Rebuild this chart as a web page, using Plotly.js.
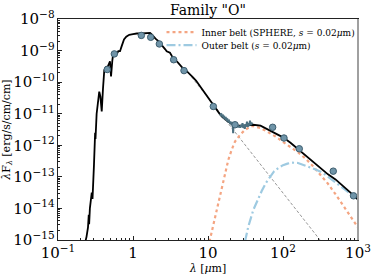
<!DOCTYPE html>
<html>
<head>
<meta charset="utf-8">
<script src="https://cdn.plot.ly/plotly-3.0.1.min.js"></script>
<style>html,body{margin:0;padding:0;background:#fff;}#chart{width:374px;height:280px;}</style>
</head>
<body>
<div id="chart"></div>
<script>
// Values, in log10 units (log10 of wavelength in um, log10 of lambda*F_lambda)
const modelLogLam = [-0.64,-0.635,-0.62,-0.60,-0.59,-0.585,-0.575,-0.55,-0.54,-0.52,-0.505,-0.50,-0.485,-0.47,-0.45,-0.435,-0.417,-0.40,-0.383,-0.36,-0.335,-0.307,-0.293,-0.275,-0.262,-0.235,-0.21,-0.196,-0.173,-0.151,-0.12,-0.09,-0.05,0.0,0.05,0.12,0.18,0.227,0.25,0.27,0.30,0.338,0.36,0.38,0.404,0.43,0.449,0.47,0.493,0.52,0.538,0.56,0.60,0.649,0.68,0.72,0.76,0.80,0.84,0.893,0.95,1.0,1.05,1.10,1.16,1.20,1.25,1.30,1.35,1.40,1.50,1.60,1.70,1.80,1.90,2.0,2.1,2.2,2.3,2.4,2.5,2.6,2.7,2.8,2.9,3.0];
const modelLogF   = [-15.1,-15.0,-14.9,-14.6,-14.2,-14.5,-14.0,-13.5,-13.7,-12.6,-11.6,-11.8,-11.0,-10.6,-10.3,-10.45,-10.93,-10.2,-9.62,-9.52,-9.5,-9.34,-9.82,-9.3,-9.07,-9.05,-9.08,-9.02,-9.02,-8.86,-8.65,-8.56,-8.5,-8.48,-8.46,-8.46,-8.45,-8.44,-8.49,-8.55,-8.62,-8.70,-8.76,-8.79,-8.86,-8.96,-9.02,-9.04,-9.07,-9.18,-9.24,-9.29,-9.38,-9.50,-9.6,-9.66,-9.74,-9.85,-9.95,-10.13,-10.33,-10.5,-10.68,-10.85,-11.02,-11.12,-11.22,-11.3,-11.35,-11.38,-11.38,-11.35,-11.38,-11.5,-11.62,-11.75,-11.92,-12.12,-12.3,-12.5,-12.72,-12.92,-13.08,-13.28,-13.5,-13.72];

const innerLogLam = [1.02,1.03,1.071,1.116,1.16,1.204,1.249,1.271,1.316,1.36,1.427,1.493,1.55,1.6,1.7,1.8,1.9,2.004,2.1,2.2,2.3,2.4,2.5,2.6,2.7,2.8,2.9,3.0];
const innerLogF   = [-15.05,-14.95,-14.47,-14.05,-13.63,-13.2,-12.7,-12.46,-12.14,-11.88,-11.67,-11.51,-11.43,-11.39,-11.45,-11.58,-11.72,-11.9,-12.06,-12.22,-12.42,-12.66,-12.94,-13.22,-13.55,-13.9,-14.25,-14.6];

const outerLogLam = [1.493,1.537,1.604,1.66,1.716,1.77,1.827,1.88,1.937,2.0,2.06,2.116,2.2,2.27,2.35,2.45,2.537,2.62,2.716,2.8,2.937,3.0];
const outerLogF   = [-15.05,-14.58,-14.05,-13.72,-13.45,-13.2,-12.99,-12.83,-12.72,-12.63,-12.58,-12.55,-12.56,-12.62,-12.68,-12.78,-12.88,-13.03,-13.22,-13.38,-13.6,-13.71];

const photLogLam = [0.7,1.3,2.55];
const photLogF   = [-9.59,-11.40,-15.17];

const specLogLam = [1.16,1.17,1.18,1.19,1.20,1.21,1.22,1.23,1.24,1.25,1.26,1.27,1.28,1.29,1.30,1.31,1.32,1.33,1.335,1.34,1.35,1.36,1.37,1.38,1.39,1.40,1.41,1.42,1.43,1.44,1.45,1.46,1.47,1.48,1.49,1.50,1.51,1.52,1.53,1.54,1.55,1.56,1.57,1.58,1.59];
const specLogF   = [-11.00,-11.04,-11.02,-11.08,-11.06,-11.12,-11.10,-11.16,-11.14,-11.2,-11.18,-11.24,-11.22,-11.28,-11.25,-11.32,-11.30,-11.36,-11.62,-11.34,-11.38,-11.33,-11.40,-11.36,-11.42,-11.37,-11.43,-11.39,-11.44,-11.36,-11.42,-11.30,-11.45,-11.35,-11.48,-11.33,-11.40,-11.25,-11.42,-11.30,-11.38,-11.22,-11.36,-11.28,-11.34];

const obsLogLam = [-0.343,-0.249,0.111,0.236,0.351,0.542,0.68,1.071,1.36,1.862,2.013,2.217,2.67,2.94];
const obsLogF   = [-9.60,-9.105,-8.52,-8.58,-8.79,-9.29,-9.635,-10.77,-11.35,-11.43,-11.77,-12.11,-12.82,-13.60];

const legendInner = 'Inner belt (SPHERE, <i>s</i> = 0.02<i>μ</i>m)';
const legendOuter = 'Outer belt (<i>s</i> = 0.02<i>μ</i>m)';

const p10 = a => a.map(v => Math.pow(10, v));
const serif = 'DejaVu Serif, serif';

const traces = [
  {x: p10(photLogLam), y: p10(photLogF), mode: 'lines', line: {color: '#7a7a7a', width: 0.8, dash: '3px,2px'}, showlegend: false, hoverinfo: 'skip'},
  {x: p10(innerLogLam), y: p10(innerLogF), mode: 'lines', name: legendInner, legend: 'legend', line: {color: '#f4a582', width: 2.2, dash: 'dot'}},
  {x: p10(outerLogLam), y: p10(outerLogF), mode: 'lines', name: legendOuter, legend: 'legend2', line: {color: '#9ecae1', width: 2.2, dash: '9px,3px,2px,3px'}},
  {x: p10(modelLogLam), y: p10(modelLogF), mode: 'lines', line: {color: '#000', width: 1.8}, showlegend: false},
  {x: p10(specLogLam), y: p10(specLogF), mode: 'lines', line: {color: '#4b7080', width: 2}, showlegend: false},
  {x: p10(obsLogLam), y: p10(obsLogF), mode: 'markers', marker: {color: '#6f94a8', size: 6.5, line: {color: '#3f5f70', width: 1}}, showlegend: false}
];

const legendBase = {x: 0.345, xanchor: 'left', yanchor: 'middle', bgcolor: 'rgba(0,0,0,0)', borderwidth: 0,
                    font: {family: serif, size: 9}, itemwidth: 30};

const layout = {
  width: 374, height: 280,
  margin: {l: 58, r: 16, t: 19, b: 40, autoexpand: false},
  paper_bgcolor: '#fff', plot_bgcolor: '#fff',
  font: {family: serif, color: '#000', size: 12},
  title: {text: 'Family "O"', font: {family: serif, size: 14, color: '#000'}, x: 0.556, xanchor: 'center', y: 0.965, yanchor: 'middle'},
  xaxis: {
    type: 'log', range: [-1, 3], dtick: 1, exponentformat: 'power',
    showgrid: false, zeroline: false,
    showline: true, linecolor: '#222', linewidth: 1, mirror: true,
    ticks: 'inside', ticklen: 4, tickcolor: '#222',
    minor: {ticks: 'inside', ticklen: 2, tickcolor: '#222', showgrid: false},
    tickfont: {family: serif, size: 12},
    title: {text: '<i>λ</i> [<i>μ</i>m]', font: {family: serif, size: 11}, standoff: 2}
  },
  yaxis: {
    type: 'log', range: [-15, -8], dtick: 1, exponentformat: 'power',
    showgrid: false, zeroline: false,
    showline: true, linecolor: '#222', linewidth: 1, mirror: true,
    ticks: 'inside', ticklen: 4, tickcolor: '#222',
    minor: {ticks: 'inside', ticklen: 2, tickcolor: '#222', showgrid: false},
    tickfont: {family: serif, size: 12},
    title: {text: '<i>λ</i>F<sub><i>λ</i></sub> [erg/s/cm/cm]', font: {family: serif, size: 11}, standoff: 6}
  },
  legend: Object.assign({}, legendBase, {y: 0.941}),
  legend2: Object.assign({}, legendBase, {y: 0.882}),
  shapes: [{type: 'line', xref: 'paper', yref: 'paper', x0: 1, x1: 1, y0: 0, y1: 1, line: {color: '#a0a0a0', width: 2}}],
  showlegend: true
};

Plotly.newPlot('chart', traces, layout, {displayModeBar: false, staticPlot: true});
</script>
</body>
</html>
